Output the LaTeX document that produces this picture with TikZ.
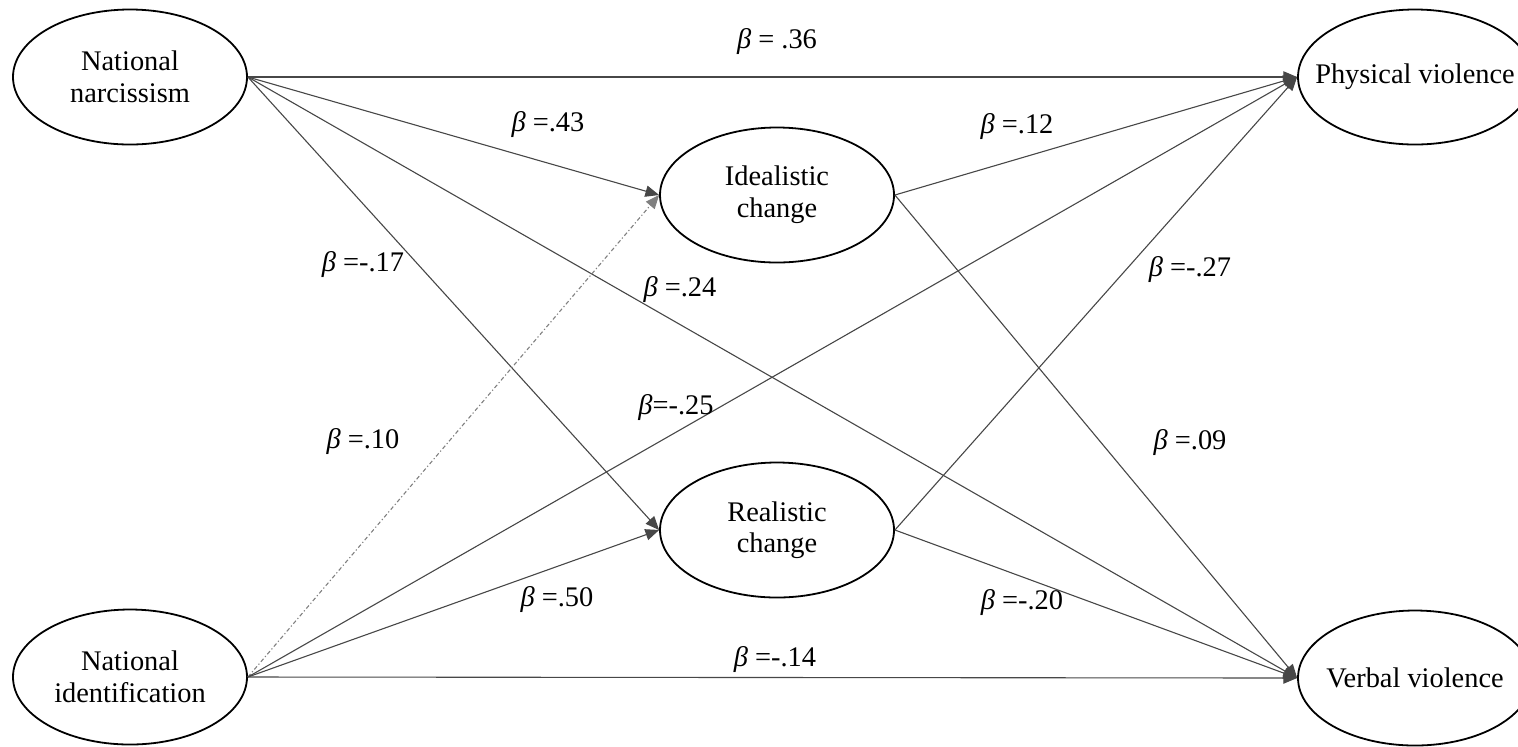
\documentclass[tikz,border=0pt]{standalone}
\usepackage{fontspec}
\setmainfont{Liberation Serif}
\usetikzlibrary{arrows}
\usetikzlibrary{shapes.geometric}

\begin{document}
\begin{tikzpicture}[x=0.5pt, y=-0.5pt,
  every node/.style={font=\fontsize{14.2}{15.8}\selectfont},
  latent/.style={draw, ellipse, line width=0.9pt, minimum width=117pt, minimum height=67.5pt, inner sep=0pt, align=center},
  effect/.style={->, >={triangle 45}, draw=black!72, line width=0.55pt},
  weak/.style={effect, draw=black!50, dash pattern=on 2pt off 1.2pt on 0.6pt off 1.2pt},
  coef/.style={inner sep=1pt}]

  \useasboundingbox (0,0) rectangle (1518,746);

  % Define nodes
  \node[latent] (narc) at (130,77) {National\\narcissism};
  \node[latent] (ident) at (130,677) {National\\identification};
  \node[latent] (ideal) at (777,195) {Idealistic\\change};
  \node[latent] (real) at (777,530) {Realistic\\change};
  \node[latent] (phys) at (1415,77) {\makebox[60pt]{Physical violence}};
  \node[latent] (verbal) at (1415,678) {\makebox[60pt]{Verbal violence}};

  % Connect the nodes
  \draw [effect] (narc.east) -- (phys.west);
  \draw [effect] (narc.east) -- (ideal.west);
  \draw [effect] (narc.east) -- (real.west);
  \draw [effect] (narc.east) -- (verbal.west);
  \draw [weak] (ident.east) -- (ideal.west);
  \draw [effect] (ident.east) -- (phys.west);
  \draw [effect] (ident.east) -- (real.west);
  \draw [effect] (ident.east) -- (verbal.west);
  \draw [effect] (ideal.east) -- (phys.west);
  \draw [effect] (ideal.east) -- (verbal.west);
  \draw [effect] (real.east) -- (phys.west);
  \draw [effect] (real.east) -- (verbal.west);

  % Path coefficients
  \node[coef] (b36) at (777,42) {\textit{β} = .36};
  \node[coef] (b43) at (548,125) {\textit{β} =.43};
  \node[coef] (b12) at (1017,127) {\textit{β} =.12};
  \node[coef] (b17) at (363,265) {\textit{β} =-.17};
  \node[coef] (b27) at (1190,270) {\textit{β} =-.27};
  \node[coef] (b24) at (680,290) {\textit{β} =.24};
  \node[coef] (b25) at (676,408) {\textit{β}=-.25};
  \node[coef] (b10) at (363,442) {\textit{β} =.10};
  \node[coef] (b09) at (1190,443) {\textit{β} =.09};
  \node[coef] (b50) at (557,600) {\textit{β} =.50};
  \node[coef] (b20) at (1022,603) {\textit{β} =-.20};
  \node[coef] (b14) at (775,660) {\textit{β} =-.14};

\end{tikzpicture}
\end{document}
